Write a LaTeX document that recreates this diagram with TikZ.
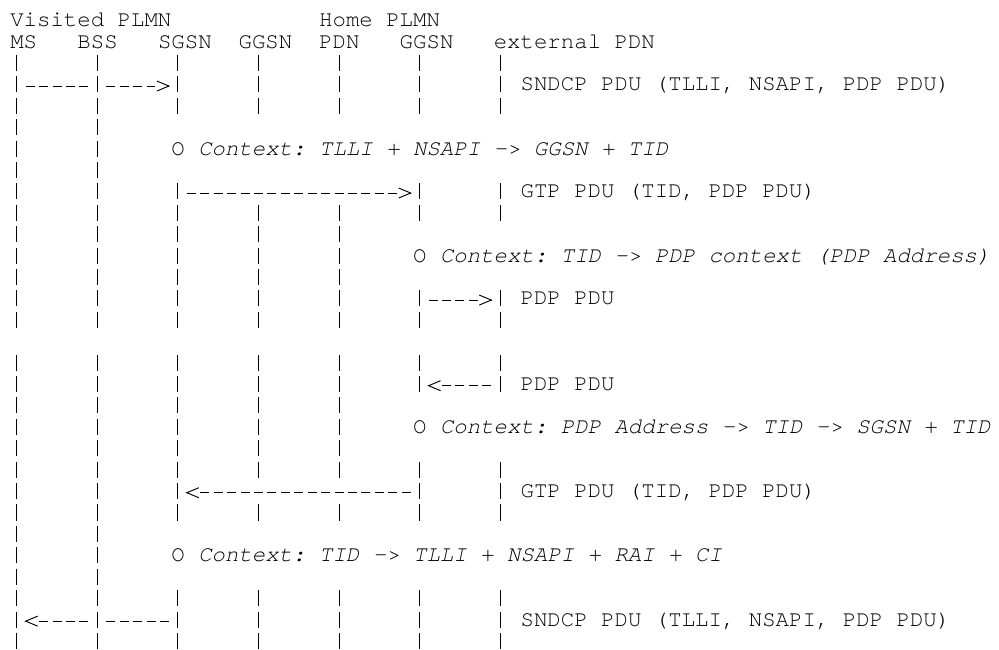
\documentclass[tikz,border=0pt]{standalone}
\usepackage{fontspec}
\usepackage{tikz}
\usetikzlibrary{arrows.meta}
\newfontfamily\asciifont{texgyrecursor}[Extension=.otf, UprightFont=*-regular, ItalicFont=*-italic, BoldFont=*-bold, BoldItalicFont=*-bolditalic]

\begin{document}
\begin{tikzpicture}[x=10.07pt, y=-16.05pt,
    cell/.style={font=\asciifont\fontsize{16.78}{18}\selectfont\frenchspacing, inner sep=0pt, anchor=base west},
    life/.style={line width=0.7pt, dash pattern=on 12pt off 4.05pt},
    msg/.style={line width=0.7pt, dash pattern=on 6.75pt off 3.32pt, shorten <=6.7pt, shorten >=6.7pt},
    head/.style={line width=0.7pt, -{Straight Barb[length=9pt, width=7.5pt]}}]
    % one unit = one character cell, rows counted downwards from the first baseline
    \useasboundingbox (-0.745,-1.248) rectangle (73.64,29.08);
    \newcommand{\sendmsg}[4]{% from, to, row, gap at the far end
      \draw[msg, shorten >=#4] (#1 |- 0,#3-0.23) -- (#2 |- 0,#3-0.23);}
    \newcommand{\msghead}[3]{% lifeline, row, side (-1 left, 1 right)
      \draw[head] ([xshift=#3*6.3pt]#1 |- 0,#2-0.23) -- ([xshift=#3*5.8pt]#1 |- 0,#2-0.23);}
    % lifeline positions
    \foreach \l/\c in {ms/0, bss/6, sgsn/12, ggsn/18, pdn/24, hggsn/30, ext/36}
      \coordinate (\l) at (\c+0.5,0);
    % header
    \node[cell] (vplmn) at (0,0) {Visited PLMN};
    \node[cell] (hplmn) at (23,0) {Home PLMN};
    \foreach \n/\c/\t in {ms/0/MS, bss/5/BSS, sgsn/11/SGSN, ggsn/17/GGSN, pdn/23/PDN, hggsn/29/GGSN, ext/36/{external PDN}}
      \node[cell] (h-\n) at (\c,1) {\t};
    % lifelines, broken where the rows leave them out
    \foreach \l/\a/\b in {ms/2/14, ms/16/29, bss/2/14, bss/16/29,
        sgsn/2/4, sgsn/8/14, sgsn/16/23, sgsn/27/29,
        ggsn/2/4, ggsn/9/14, ggsn/16/21, ggsn/23/23, ggsn/27/29,
        pdn/2/4, pdn/9/14, pdn/16/21, pdn/23/23, pdn/27/29,
        hggsn/2/4, hggsn/8/9, hggsn/13/14, hggsn/16/17, hggsn/21/23, hggsn/27/29,
        ext/2/4, ext/8/9, ext/13/14, ext/16/17, ext/21/23, ext/27/29}
      \draw[life] (\l |- 0,\a-0.68) -- (\l |- 0,\b+0.07);
    % uplink
    \sendmsg{ms}{bss}{3}{6.7pt}
    \sendmsg{bss}{sgsn}{3}{16.8pt}
    \msghead{sgsn}{3}{-1}
    \node[cell] (ctx6) at (12,6) {O \textit{Context: TLLI + NSAPI -> GGSN + TID}};
    \sendmsg{sgsn}{hggsn}{8}{16.8pt}
    \msghead{hggsn}{8}{-1}
    \node[cell] (ctx11) at (30,11) {O \textit{Context: TID -> PDP context (PDP Address)}};
    \sendmsg{hggsn}{ext}{13}{16.8pt}
    \msghead{ext}{13}{-1}
    % downlink
    \sendmsg{ext}{hggsn}{17}{16.8pt}
    \msghead{hggsn}{17}{1}
    \node[cell] (ctx19) at (30,19) {O \textit{Context: PDP Address -> TID -> SGSN + TID}};
    \sendmsg{hggsn}{sgsn}{22}{16.8pt}
    \msghead{sgsn}{22}{1}
    \node[cell] (ctx25) at (12,25) {O \textit{Context: TID -> TLLI + NSAPI + RAI + CI}};
    \sendmsg{sgsn}{bss}{28}{6.7pt}
    \sendmsg{bss}{ms}{28}{16.8pt}
    \msghead{ms}{28}{1}
    % PDU labels
    \foreach \r/\t in {3/{SNDCP PDU (TLLI, NSAPI, PDP PDU)}, 8/{GTP PDU (TID, PDP PDU)}, 13/{PDP PDU},
        17/{PDP PDU}, 22/{GTP PDU (TID, PDP PDU)}, 28/{SNDCP PDU (TLLI, NSAPI, PDP PDU)}}
      \node[cell] (pdu\r) at (38,\r) {\t};
\end{tikzpicture}
\end{document}
